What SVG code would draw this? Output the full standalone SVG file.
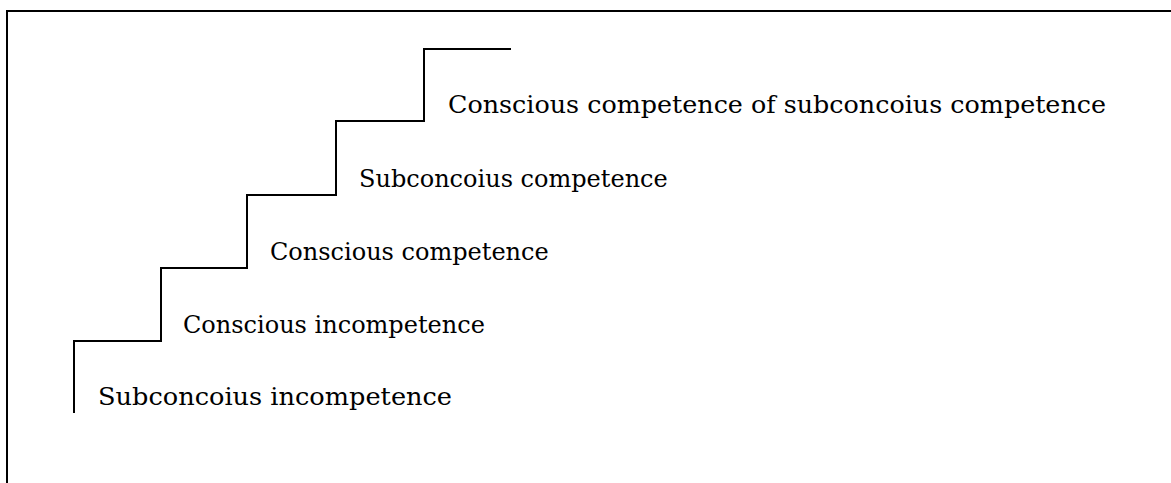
<svg xmlns="http://www.w3.org/2000/svg" width="1171" height="483" viewBox="0 0 1171 483">
  <style>
    .frame { fill: none; stroke: #000; stroke-width: 2; }
    .stairs { fill: none; stroke: #000; stroke-width: 2; stroke-linejoin: miter; stroke-linecap: butt; }
    .label { font-family: "DejaVu Serif", "Liberation Serif", serif; font-size: 24px; fill: #000; }
  </style>
  <rect width="1171" height="483" fill="#fff"/>
  <!-- outer frame, open to the right and bottom -->
  <path class="frame" d="M7,483 V11 H1171"/>

  <g id="connectors">
    <!-- staircase -->
    <path class="stairs" d="M74,413 V341 H161 V268 H247 V195 H336 V121 H424 V49 H511"/>
  </g>

  <g id="step1">
    <text class="label" x="98" y="405" textLength="354" lengthAdjust="spacingAndGlyphs">Subconcoius incompetence</text>
  </g>
  <g id="step2">
    <text class="label" x="183" y="333">Conscious incompetence</text>
  </g>
  <g id="step3">
    <text class="label" x="270" y="260">Conscious competence</text>
  </g>
  <g id="step4">
    <text class="label" x="359" y="187">Subconcoius competence</text>
  </g>
  <g id="step5">
    <text class="label" x="448" y="113" textLength="658" lengthAdjust="spacingAndGlyphs">Conscious competence of subconcoius competence</text>
  </g>
</svg>
